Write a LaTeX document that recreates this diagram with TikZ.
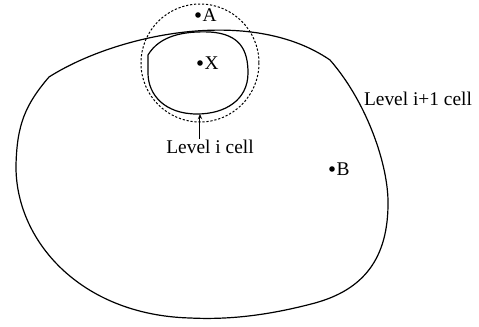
\documentclass[tikz,border=0pt]{standalone}
\usepackage{fontspec}
\setmainfont{Liberation Serif}
\usetikzlibrary{positioning,arrows.meta}

\begin{document}
\begin{tikzpicture}[
  x=0.5pt, y=-0.5pt,
  font=\fontsize{9.7}{11.6}\selectfont,
  cell/.style={line width=0.6pt, draw=black},
  zone/.style={line width=0.5pt, draw=black, dash pattern=on 1.1pt off 0.9pt},
  pt/.style={circle, fill=black, inner sep=0pt, minimum size=2.8pt},
  lbl/.style={inner sep=0.5pt, text=black},
  arr/.style={-{Stealth[length=2.6pt, width=2.2pt]}, line width=0.5pt, draw=black},
]
\useasboundingbox (0,0) rectangle (479,327);

%% ============ level i+1 cell ============
\draw[cell] (49,77) .. controls (115,35) and (250,5) .. (330,60)
  .. controls (365,100) and (387,160) .. (388,200)
  .. controls (389,260) and (362,290) .. (315,303)
  .. controls (270,315) and (230,320) .. (190,318)
  .. controls (80,315) and (15,240) .. (16,165)
  .. controls (17,125) and (25,105) .. (49,77) -- cycle;

%% ============ level i cell + its zone ============
\draw[cell] (148,55) .. controls (160,35) and (185,31) .. (210,32)
  .. controls (240,34) and (248,50) .. (248,73)
  .. controls (248,100) and (225,114) .. (197,114)
  .. controls (165,114) and (148,95) .. (148,73) -- cycle;
\draw[zone] (200,63) circle[radius=59];
\coordinate (ibot) at (200,114);

%% ============ points ============
\node[pt] (a) at (198,15) {};
\node[lbl, right=0pt of a] (la) {A};
\node[pt] (x) at (200,63) {};
\node[lbl, right=0pt of x] (lx) {X};
\node[pt] (b) at (332,169) {};
\node[lbl, right=0pt of b] (lb) {B};

%% ============ labels ============
\node[lbl] (lvli) at (210,147) {Level i cell};
\node[lbl] (lvlj) at (418,99) {Level i+1 cell};
\draw[arr] (lvli.north -| ibot) -- (ibot);

\end{tikzpicture}
\end{document}
